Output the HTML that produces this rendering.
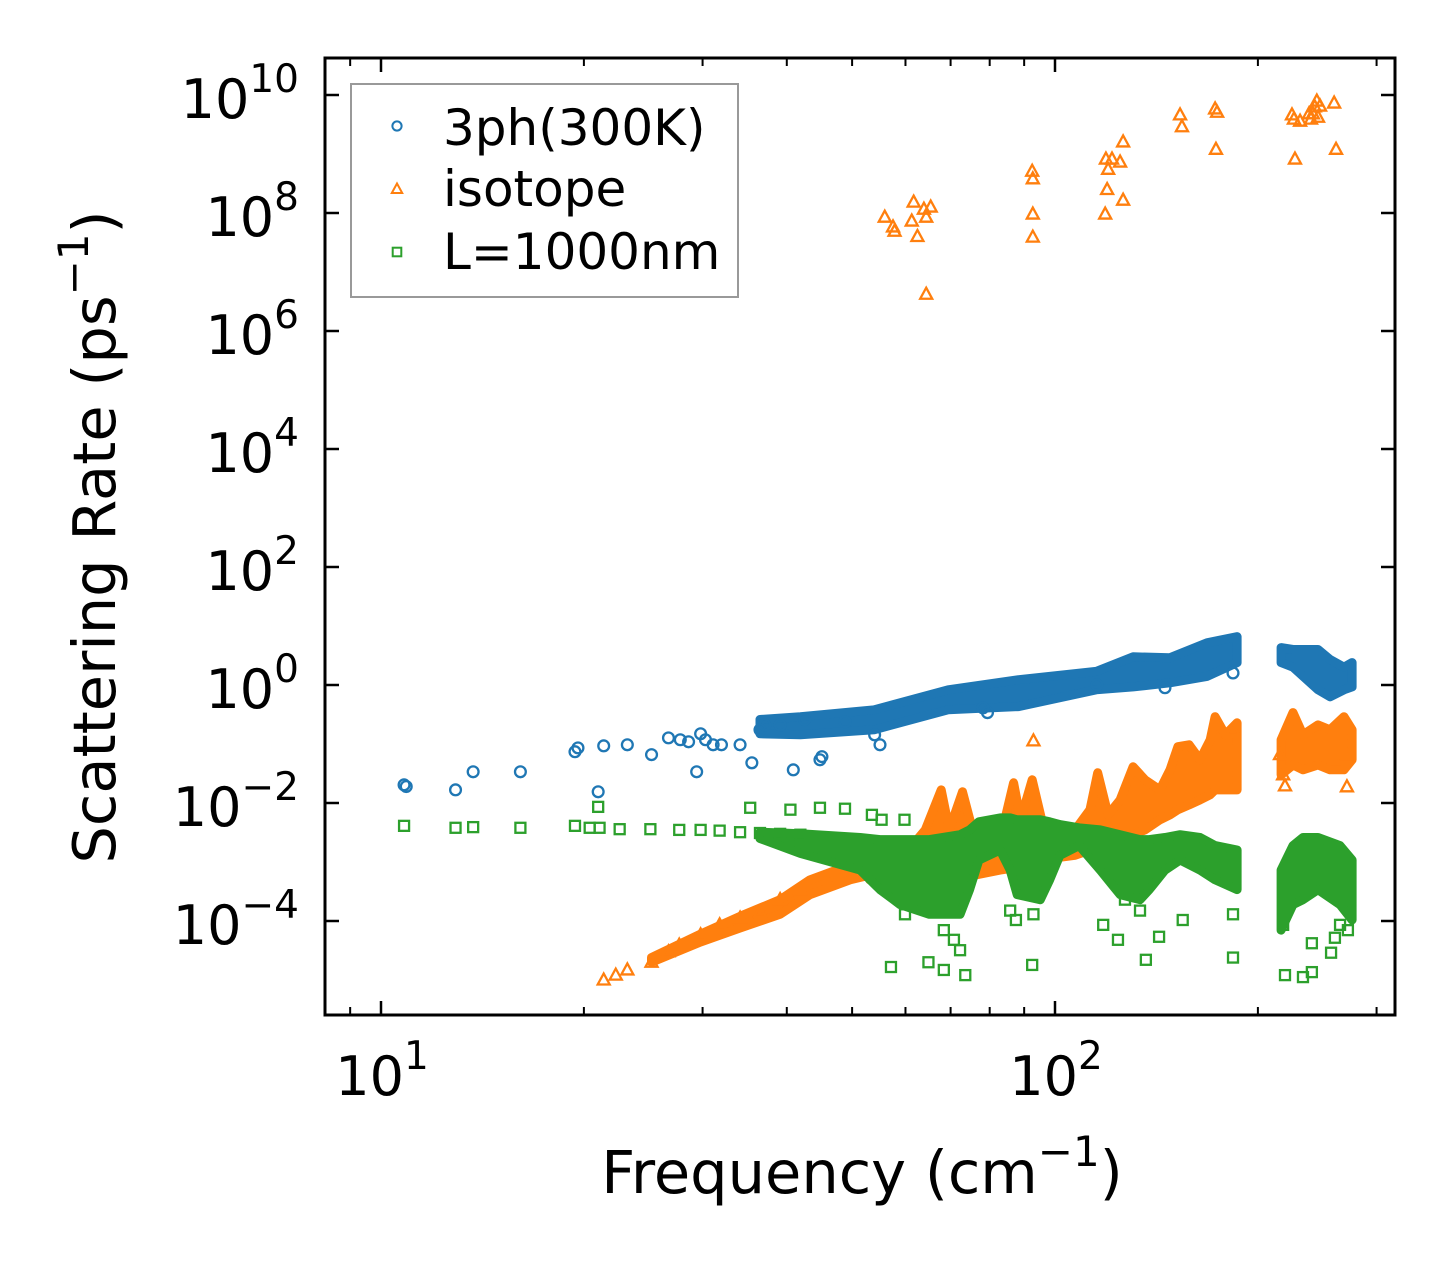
<!DOCTYPE html>
<html><head><meta charset="utf-8"><style>
html,body{margin:0;padding:0;background:#fff;}
svg{display:block;font-family:"DejaVu Sans","Liberation Sans",sans-serif;}
</style></head><body>
<svg id="chart" width="1455" height="1265" viewBox="0 0 1455 1265" xmlns="http://www.w3.org/2000/svg">
<rect x="0" y="0" width="1455" height="1265" fill="#fff"/>
<g id="plot"></g>
<g id="axes"></g>
</svg>
<script>
// ---- data ----
const blueFreq = [10.82,10.9,12.9,13.7,16.1,19.4,19.6,21.0,21.4,23.2,25.2,26.7,27.8,28.6,29.4,29.8,30.3,31.1,32.0,34.1,35.5,36.5,37.1,39.1,40.9,42.5,44.8,45.1,48.8,54.0,55.0,79.4,78.2,145.6,183.7,115.4];
const blueRate = [0.0203,0.019,0.0167,0.0338,0.0338,0.074,0.086,0.0155,0.093,0.097,0.066,0.127,0.118,0.109,0.0338,0.149,0.118,0.097,0.097,0.097,0.048,0.174,0.211,0.211,0.0365,0.26,0.054,0.061,0.238,0.143,0.097,0.34,0.41,0.90,1.6,1.01];
const blueBandFreq = [36.5,41.9,53.9,69.4,88.3,115.1,130.6,148.1,168.1,186.3];
const blueBandHigh = [0.26,0.29,0.38,0.83,1.23,1.7,3.0,2.9,5.2,6.6];
const blueBandLow  = [0.149,0.143,0.174,0.38,0.43,0.83,0.93,1.09,1.4,2.4];
const blueBand2Freq = [216.5,225.5,245.6,255.9,268.4,275.9];
const blueBand2High = [4.3,4.0,4.0,2.7,2.0,2.4];
const blueBand2Low  = [2.4,2.0,0.83,0.63,0.83,0.93];

const isoFreq = [21.4,22.3,23.2,25.2,26.7,27.7,29.8,31.8,34.1,36.5,39.1,41.9,
  55.9,57.5,57.8,61.3,61.7,62.5,63.9,64.4,64.4,65.4,92.5,92.7,92.7,92.7,118.7,119.0,119.5,119.9,121.5,124.9,126.2,126.2,153.3,154.3,172.8,173.3,174.0,224.7,226.2,227.0,238.2,239.8,241.3,242.9,244.6,245.6,247.3,259.5,261.2,231.0,
  92.9,215.7,218.0,219.4,271.1,271.1,183.7];
const isoRate = [1.0e-5,1.21e-5,1.48e-5,2.0e-5,3.0e-5,3.9e-5,5.8e-5,8.6e-5,1.12e-4,1.4e-4,2.3e-4,3.4e-4,
  8.5e7,5.8e7,4.9e7,7.3e7,1.53e8,4.0e7,1.16e8,8.5e7,4.2e6,1.26e8,5.1e8,3.8e8,9.6e7,3.9e7,9.6e7,8.2e8,2.5e8,5.5e8,8.2e8,7.3e8,1.6e9,1.65e8,4.6e9,2.9e9,5.8e9,1.2e9,5.1e9,4.6e9,3.9e9,8.2e8,4.8e9,3.9e9,4.8e9,6.3e9,7.9e9,4.2e9,6.5e9,7.3e9,1.2e9,3.6e9,
  0.113,0.066,0.030,0.0195,0.0188,0.066,0.174];
const isoRampFreq = [25.2,29.8,34.1,39.1,43.3,49.7,53.1];
const isoRampHigh = [2.4e-5,6.0e-5,1.2e-4,2.3e-4,5.0e-4,8.9e-4,1.08e-3];
const isoRampLow  = [2.0e-5,4.4e-5,7.6e-5,1.3e-4,2.8e-4,5.0e-4,6.0e-4];
const isoBandFreq = [53.1,56.9,60.9,64.2,67.8,69.7,72.9,76.1,82.9,86.8,88.9,92.5,96.7,101.7,107.1,112.7,115.7,119.9,124.9,130.6,136.0,143.1,148.1,152.2,158.1,164.1,169.9,172.8,178.9,186.3];
const isoBandHigh = [7.9e-4,1.2e-3,1.7e-3,3.5e-3,0.0167,3.5e-3,0.0155,2.4e-3,2.4e-3,0.022,5.2e-3,0.0247,2.9e-3,2.4e-3,3.5e-3,7.7e-3,0.0325,6.3e-3,0.0113,0.041,0.0247,0.0167,0.0365,0.090,0.097,0.054,0.118,0.29,0.143,0.229];
const isoBandLow  = [5.0e-4,4.1e-4,4.1e-4,5.0e-4,6.0e-4,6.0e-4,6.0e-4,6.0e-4,7.3e-4,7.9e-4,8.9e-4,8.9e-4,1.08e-3,1.2e-3,1.3e-3,1.6e-3,1.7e-3,1.9e-3,2.4e-3,2.9e-3,3.5e-3,5.2e-3,6.3e-3,7.7e-3,9.3e-3,0.0113,0.0138,0.0167,0.0167,0.0167];
const isoBand2Freq = [216.5,225.5,233.3,245.6,255.9,268.4,275.9];
const isoBand2High = [0.118,0.34,0.143,0.211,0.174,0.29,0.174];
const isoBand2Low  = [0.030,0.044,0.0365,0.044,0.0365,0.0365,0.054];

const bdyFreq = [10.82,12.9,13.7,16.1,19.4,20.4,21.1,22.6,25.1,27.7,29.8,31.8,34.1,36.5,39.1,41.9,
  21.0,35.3,40.5,44.8,48.8,53.5,55.3,59.8,
  57.1,64.9,68.4,73.6,92.5,117.9,124.0,136.4,142.7,154.7,183.7,219.4,233.3,240.5,240.5,256.8,260.2,272.0,59.9,68.4,72.3,70.8,85.8,87.5,92.9,127.0,133.7,183.7,218.0,264.8];
const bdyRate = [0.0041,0.0038,0.0039,0.0038,0.0041,0.0038,0.0038,0.0036,0.0036,0.0035,0.0035,0.0034,0.0032,0.0031,0.0030,0.0029,
  0.0086,0.0083,0.0077,0.0083,0.0080,0.0063,0.0052,0.0052,
  1.66e-5,2.0e-5,1.48e-5,1.21e-5,1.8e-5,8.6e-5,4.8e-5,2.2e-5,5.4e-5,1.04e-4,2.4e-5,1.21e-5,1.12e-5,1.36e-5,4.2e-5,2.9e-5,5.2e-5,7.0e-5,1.3e-4,7.0e-5,3.2e-5,4.8e-5,1.5e-4,1.04e-4,1.3e-4,2.3e-4,1.5e-4,1.3e-4,8.6e-5,8.6e-5];
const bdyBandFreq = [36.5,41.9,51.4,55.0,58.9,65.1,72.3,74.7,77.1,82.9,85.8,87.9,95.1,98.2,101.7,108.6,116.7,124.9,133.7,138.0,145.6,153.3,164.1,172.8,186.3];
const bdyBandHigh = [0.0032,0.0030,0.0026,0.0024,0.0024,0.0024,0.0029,0.0035,0.0048,0.0056,0.0056,0.0052,0.0052,0.0048,0.0043,0.0038,0.0035,0.0029,0.0024,0.0024,0.0026,0.0029,0.0026,0.0019,0.0016];
const bdyBandLow  = [0.0025,0.0014,7.3e-4,3.4e-4,1.9e-4,1.3e-4,1.3e-4,3.4e-4,1.08e-3,0.0016,7.3e-4,2.8e-4,2.3e-4,5.0e-4,0.0013,0.0019,7.3e-4,2.8e-4,2.3e-4,3.4e-4,7.3e-4,1.08e-3,7.3e-4,5.0e-4,3.4e-4];
const bdyBand2Freq = [216.5,225.5,233.3,245.6,264.8,275.9];
const bdyBand2High = [7.3e-4,0.0019,0.0026,0.0026,0.0019,1.08e-3];
const bdyBand2Low  = [7.0e-5,1.9e-4,2.3e-4,3.4e-4,1.9e-4,1.04e-4];

const yTickExps = [10,8,6,4,2,0,-2,-4];
const xTickExps = [1,2];
const xMinorTicks = [9,20,30,40,50,60,70,80,90,200,300];

// ---- axes ----
const L=325,R=1395,T=58,B=1015;
function X(f){return 381+674*(Math.log10(f)-1);}
function Y(v){return 95+59*(10-Math.log10(v));}
const NS="http://www.w3.org/2000/svg";
function mk(tag,attrs,parent){const e=document.createElementNS(NS,tag);for(const k in attrs)e.setAttribute(k,attrs[k]);parent.appendChild(e);return e;}
const plot=document.getElementById('plot');
const axes=document.getElementById('axes');
const C_BLUE="#1f77b4",C_OR="#ff7f0e",C_GR="#2ca02c";

function band(fr,hi,lo,color,name){
  let pts=[];
  for(let i=0;i<fr.length;i++)pts.push(X(fr[i]).toFixed(1)+","+Y(hi[i]).toFixed(1));
  for(let i=fr.length-1;i>=0;i--)pts.push(X(fr[i]).toFixed(1)+","+Y(lo[i]).toFixed(1));
  const p=mk('polygon',{points:pts.join(' '),fill:color,stroke:color,'stroke-width':9,'stroke-linejoin':'round'},plot);
  
  
}
function marker(type,cx,cy,color,parent){
  let e;
  if(type==='o'){e=mk('circle',{cx:cx,cy:cy,r:5.4,fill:'none',stroke:color,'stroke-width':2.3},parent);}
  else if(type==='^'){e=mk('polygon',{points:`${cx},${cy-6.5} ${cx+6},${cy+4.5} ${cx-6},${cy+4.5}`,fill:'none',stroke:color,'stroke-width':2.3},parent);}
  else {e=mk('rect',{x:cx-5,y:cy-5,width:10,height:10,fill:'none',stroke:color,'stroke-width':2.3},parent);}
  return e;
}
function scatter(fr,rt,type,color,name){
  const g=mk('g',{},plot);
  
  
  for(let i=0;i<fr.length;i++){
    const m=marker(type,X(fr[i]),Y(rt[i]),color,g);
    
    
  }
}
band(blueBandFreq,blueBandHigh,blueBandLow,C_BLUE,'3ph-band');
band(blueBand2Freq,blueBand2High,blueBand2Low,C_BLUE,'3ph-band-high-freq');
scatter(blueFreq,blueRate,'o',C_BLUE,'3ph-series');
band(isoRampFreq,isoRampHigh,isoRampLow,C_OR,'isotope-ramp-band');
band(isoBandFreq,isoBandHigh,isoBandLow,C_OR,'isotope-band');
band(isoBand2Freq,isoBand2High,isoBand2Low,C_OR,'isotope-band-high-freq');
scatter(isoFreq,isoRate,'^',C_OR,'isotope-series');
band(bdyBandFreq,bdyBandHigh,bdyBandLow,C_GR,'boundary-band');
band(bdyBand2Freq,bdyBand2High,bdyBand2Low,C_GR,'boundary-band-high-freq');
scatter(bdyFreq,bdyRate,'s',C_GR,'boundary-series');

const fr=mk('rect',{x:L,y:T,width:R-L,height:B-T,fill:'none',stroke:'#000','stroke-width':3},axes);


yTickExps.forEach(e=>{
  const y=Y(Math.pow(10,e));
  mk('line',{x1:L,y1:y,x2:L+14,y2:y,stroke:'#000','stroke-width':2.5},axes);
  mk('line',{x1:R,y1:y,x2:R-14,y2:y,stroke:'#000','stroke-width':2.5},axes);
  const t=mk('text',{x:299,y:y+23,'text-anchor':'end','font-size':54,fill:'#000'},axes);
  
  
  const s1=document.createElementNS(NS,'tspan');s1.textContent='10';t.appendChild(s1);
  const s2=document.createElementNS(NS,'tspan');s2.setAttribute('dy','-26');s2.setAttribute('font-size','39');s2.textContent=(e<0?'\u2212':'')+Math.abs(e);t.appendChild(s2);
});
xTickExps.forEach(e=>{
  const x=X(Math.pow(10,e));
  mk('line',{x1:x,y1:B,x2:x,y2:B-14,stroke:'#000','stroke-width':2.5},axes);
  mk('line',{x1:x,y1:T,x2:x,y2:T+14,stroke:'#000','stroke-width':2.5},axes);
  const t=mk('text',{x:x+1,y:1095,'text-anchor':'middle','font-size':54,fill:'#000'},axes);
  
  
  const s1=document.createElementNS(NS,'tspan');s1.textContent='10';t.appendChild(s1);
  const s2=document.createElementNS(NS,'tspan');s2.setAttribute('dy','-26');s2.setAttribute('font-size','39');s2.textContent=String(e);t.appendChild(s2);
});
xMinorTicks.forEach(v=>{
  const x=X(v);
  if(x<L||x>R)return;
  mk('line',{x1:x,y1:B,x2:x,y2:B-8,stroke:'#000','stroke-width':2},axes);
  mk('line',{x1:x,y1:T,x2:x,y2:T+8,stroke:'#000','stroke-width':2},axes);
});
</script>
<svg style="position:absolute;left:0;top:0" width="1455" height="1265" viewBox="0 0 1455 1265" xmlns="http://www.w3.org/2000/svg" font-family="DejaVu Sans, Liberation Sans, sans-serif">
<text x="862" y="1193" text-anchor="middle" font-size="59" fill="#000">Frequency (cm<tspan dy="-27" font-size="42">−1</tspan><tspan dy="27">)</tspan></text>
<text transform="translate(115,537) rotate(-90)" text-anchor="middle" font-size="59" fill="#000">Scattering Rate (ps<tspan dy="-27" font-size="42">−1</tspan><tspan dy="27">)</tspan></text>
<g>
<rect x="351" y="84" width="387" height="213" fill="#fff" fill-opacity="0.8" stroke="#999" stroke-width="2"/>
<circle cx="397" cy="126" r="4.6" fill="none" stroke="#1f77b4" stroke-width="2"/>
<text x="443" y="145" font-size="50" fill="#000">3ph(300K)</text>
<polygon points="397,183.5 402.2,193 391.8,193" fill="none" stroke="#ff7f0e" stroke-width="2"/>
<text x="443" y="206" font-size="50" fill="#000">isotope</text>
<rect x="392.7" y="247.7" width="8.6" height="8.6" fill="none" stroke="#2ca02c" stroke-width="2"/>
<text x="443" y="269" font-size="50" fill="#000">L=1000nm</text>
</g>
</svg>
</body></html>
